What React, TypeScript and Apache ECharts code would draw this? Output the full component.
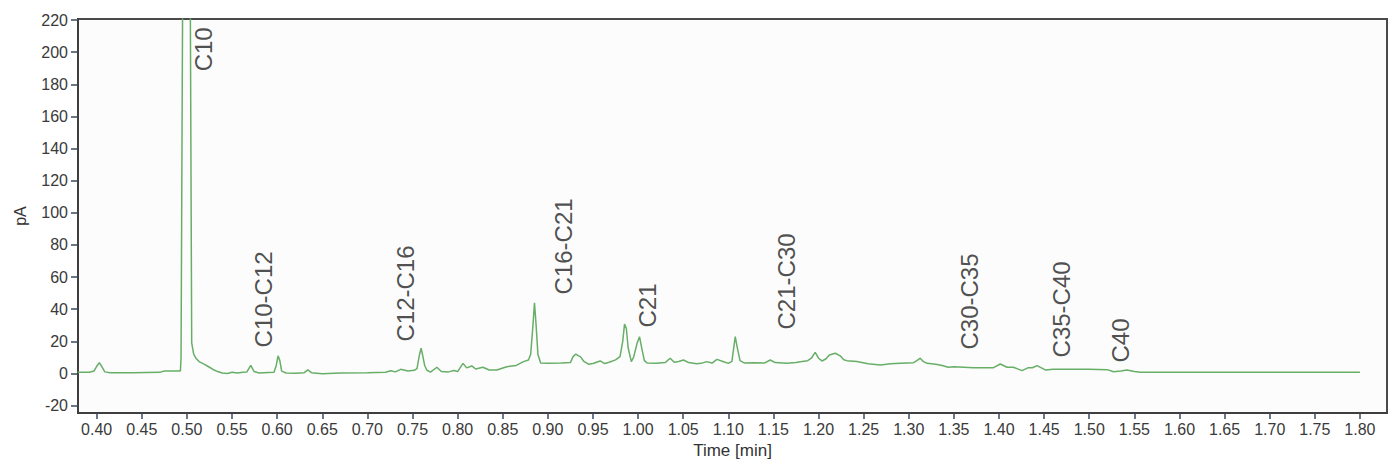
import React, { useEffect, useRef } from "react";
import * as echarts from "echarts";

// Chromatogram trace: retention time (min) and signal (pA)
const times: number[] = [
  0.379, 0.392, 0.397, 0.4, 0.403, 0.406, 0.409, 0.415, 0.44, 0.47, 0.475, 0.49,
  0.4928, 0.4935, 0.495, 0.496, 0.4995, 0.503, 0.504, 0.5053, 0.5075, 0.51, 0.514,
  0.519, 0.524, 0.529, 0.534, 0.539, 0.545, 0.55, 0.556, 0.562, 0.5665, 0.5707,
  0.5745, 0.58, 0.59, 0.5965, 0.599, 0.601, 0.603, 0.605, 0.61, 0.62, 0.63, 0.634,
  0.638, 0.65, 0.67, 0.7, 0.72, 0.726, 0.731, 0.737, 0.745, 0.752, 0.755, 0.7575,
  0.7595, 0.761, 0.7635, 0.766, 0.77, 0.777, 0.782, 0.79, 0.796, 0.8, 0.806, 0.81,
  0.8157, 0.82, 0.828, 0.835, 0.8435, 0.8545, 0.865, 0.873, 0.8785, 0.881, 0.8835,
  0.8852, 0.887, 0.889, 0.892, 0.9, 0.915, 0.925, 0.928, 0.931, 0.934, 0.936, 0.94,
  0.945, 0.95, 0.958, 0.963, 0.968, 0.975, 0.98, 0.983, 0.985, 0.987, 0.989, 0.9925,
  0.995, 0.999, 1.0016, 1.004, 1.007, 1.01, 1.02, 1.03, 1.0356, 1.04, 1.045, 1.0503,
  1.056, 1.065, 1.07, 1.076, 1.082, 1.0874, 1.094, 1.1, 1.104, 1.106, 1.1077, 1.11,
  1.113, 1.118, 1.128, 1.14, 1.1465, 1.152, 1.165, 1.175, 1.1816, 1.188, 1.192,
  1.1963, 1.2, 1.2038, 1.208, 1.212, 1.2185, 1.224, 1.228, 1.2315, 1.2425, 1.255,
  1.2684, 1.28, 1.2906, 1.3053, 1.309, 1.3127, 1.316, 1.3202, 1.33, 1.337, 1.3437,
  1.35, 1.372, 1.394, 1.4014, 1.4089, 1.4159, 1.4255, 1.432, 1.437, 1.4421, 1.447,
  1.4513, 1.46, 1.5, 1.52, 1.527, 1.535, 1.5419, 1.55, 1.5567, 1.65, 1.8,
];
const signal: number[] = [
  0.8, 0.8, 1.5, 4.5, 6.7, 4.0, 1.0, 0.5, 0.5, 0.7, 1.5, 1.5,
  1.5, 10, 200, 320, 700, 320, 200, 19, 12, 9.5, 7.2,
  5.8, 4.2, 2.5, 1.2, 0.3, 0.0, 0.8, 0.3, 0.8, 1.0, 5.0,
  1.2, 0.3, 0.6, 0.8, 5.0, 11.0, 8.0, 1.5, 0.3, 0.2, 0.5, 2.2,
  0.5, -0.2, 0.3, 0.5, 0.8, 1.7, 1.0, 2.6, 1.5, 2.0, 3.0, 11,
  15.7, 12, 5, 2, 0.8, 3.9, 1.2, 1.0, 1.8, 1.2, 6.3, 3.5,
  4.7, 2.8, 3.9, 2.2, 2.2, 4.2, 5.0, 7.4, 8.4, 12, 30,
  44, 30, 12, 6.5, 6.3, 6.5, 6.8, 10.5, 12.1, 11.0, 10.5, 7.5,
  5.8, 6.2, 7.8, 6.2, 7.0, 8.5, 10.5, 20, 30.8, 28, 16, 7.4,
  10, 19, 22.9, 16, 8, 6.5, 6.3, 6.8, 9.5, 7.0, 7.5, 8.4,
  6.8, 6.0, 6.3, 7.4, 6.5, 8.8, 7.5, 6.3, 7.5, 16, 22.9, 16,
  8, 6.5, 6.7, 6.5, 8.4, 6.8, 6.3, 6.8, 7.4, 8.0, 9.5,
  13.2, 9.5, 7.8, 9.0, 11.5, 12.6, 11.0, 8.5, 8.0, 7.4, 6.0,
  5.3, 6.0, 6.3, 6.7, 8.0, 9.5, 7.5, 6.3, 5.8, 5.0, 3.9,
  4.2, 3.6, 3.6, 5.9, 3.9, 3.9, 1.8, 3.5, 3.6, 4.9, 3.5,
  2.2, 2.6, 2.6, 2.4, 1.1, 1.6, 2.2, 1.2, 0.7, 0.7, 0.7,
];

// Peak annotations (text starts at given time / pA)
const peakNames: string[] = ["C10", "C10-C12", "C12-C16", "C16-C21", "C21", "C21-C30", "C30-C35", "C35-C40", "C40"];
const peakTimes: number[] = [0.519, 0.5855, 0.743, 0.918, 1.0106, 1.165, 1.368, 1.47, 1.535];
const peakValues: number[] = [187.8, 15.9, 19.6, 48.9, 28.3, 27.1, 14.6, 9.7, 6.5];

// Axis ticks
const xTicks: number[] = [
  0.4, 0.45, 0.5, 0.55, 0.6, 0.65, 0.7, 0.75, 0.8, 0.85, 0.9, 0.95, 1.0, 1.05, 1.1,
  1.15, 1.2, 1.25, 1.3, 1.35, 1.4, 1.45, 1.5, 1.55, 1.6, 1.65, 1.7, 1.75, 1.8,
];
const yTicks: number[] = [-20, 0, 20, 40, 60, 80, 100, 120, 140, 160, 180, 200, 220];

const FONT = "'Liberation Sans', Arial, sans-serif";

export default function App() {
  const ref = useRef<HTMLDivElement>(null);
  useEffect(() => {
    if (!ref.current) return;
    const chart = echarts.init(ref.current, undefined, { renderer: "svg" });
    const lineData = times.map((t, i) => [t, signal[i]]);
    const peakData = peakTimes.map((t, i) => ({ value: [t, peakValues[i]], name: peakNames[i] }));
    chart.setOption({
      animation: false,
      backgroundColor: "#ffffff",
      textStyle: { fontFamily: FONT },
      grid: {
        left: 78,
        right: 9,
        top: 19,
        bottom: 53,
        show: true,
        borderColor: "#4a4a4a",
        borderWidth: 2,
        backgroundColor: "#fcfcfc",
      },
      xAxis: {
        type: "value",
        min: 0.3793,
        max: 1.83,
        name: "Time [min]",
        nameLocation: "middle",
        nameGap: 29,
        nameTextStyle: { fontSize: 17, color: "#333", fontFamily: FONT },
        axisLine: { show: true, onZero: false, lineStyle: { color: "#3e3e3e", width: 2 } },
        axisTick: { show: true, length: 6, customValues: xTicks, lineStyle: { color: "#3b4a5e", width: 1.5 } },
        axisLabel: {
          customValues: xTicks,
          formatter: (v: number) => v.toFixed(2),
          fontSize: 16,
          color: "#3a3a3a",
          margin: 8,
          fontFamily: FONT,
        },
        splitLine: { show: false },
      },
      yAxis: {
        type: "value",
        min: -24.6,
        max: 220.7,
        name: "pA",
        nameLocation: "middle",
        nameGap: 50,
        nameTextStyle: { fontSize: 16, color: "#333", fontFamily: FONT },
        axisLine: { show: true, onZero: false, lineStyle: { color: "#3e3e3e", width: 2 } },
        axisTick: { show: true, length: 7, customValues: yTicks, lineStyle: { color: "#3b4a5e", width: 1.5 } },
        axisLabel: {
          customValues: yTicks,
          fontSize: 16,
          color: "#3a3a3a",
          margin: 10,
          fontFamily: FONT,
        },
        splitLine: { show: false },
      },
      series: [
        {
          type: "line",
          data: lineData,
          showSymbol: false,
          symbol: "none",
          clip: true,
          lineStyle: { color: "#67ae67", width: 1.5 },
          z: 2,
        },
        {
          type: "scatter",
          data: peakData,
          symbolSize: 1,
          itemStyle: { color: "transparent" },
          silent: true,
          z: 3,
          label: {
            show: true,
            formatter: (p: any) => p.name,
            position: [0, 0],
            rotate: 90,
            align: "left",
            verticalAlign: "middle",
            fontSize: 24,
            color: "#222",
            fontFamily: FONT,
          },
        },
      ],
    });
    return () => chart.dispose();
  }, []);
  return (
    <div
      ref={ref}
      style={{ position: "fixed", left: 0, top: 0, width: 1396, height: 466 }}
    />
  );
}
